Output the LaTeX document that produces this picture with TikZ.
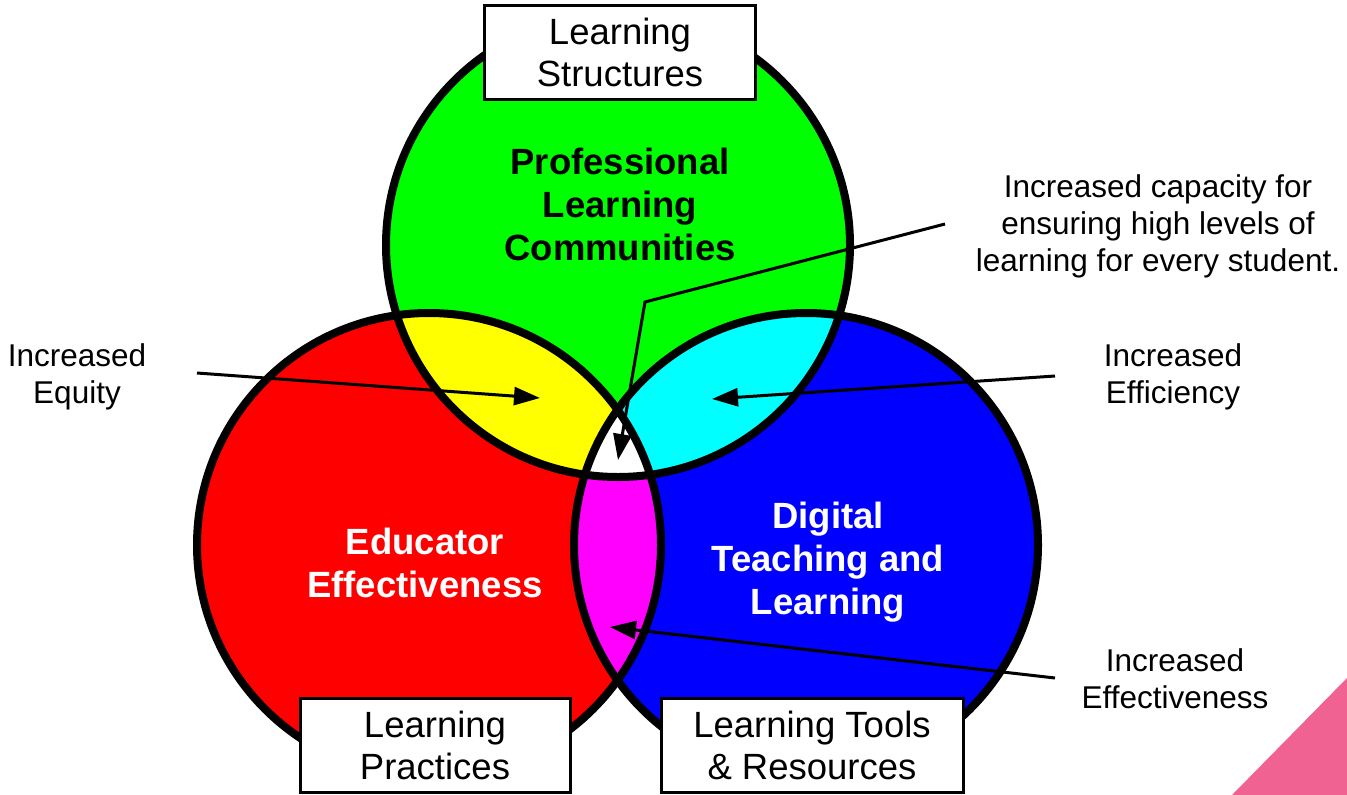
\documentclass[tikz,border=0pt]{standalone}
\usepackage{fontspec}
\setmainfont{Liberation Sans}
\usetikzlibrary{arrows.meta}
\definecolor{cornerpink}{HTML}{F06292}
\definecolor{vred}{HTML}{FF0000}
\definecolor{vgreen}{HTML}{00FF00}
\definecolor{vblue}{HTML}{0000FF}
\definecolor{vyellow}{HTML}{FFFF00}
\definecolor{vcyan}{HTML}{00FFFF}
\definecolor{vmagenta}{HTML}{FF00FF}
\begin{document}
\begin{tikzpicture}[x=1pt,y=-1pt,
  ring/.style={draw=black, line width=8pt, circle, minimum size=464pt, inner sep=0pt},
  labelbox/.style={draw, line width=3pt, fill=white, minimum height=94pt, inner sep=0pt, align=center, font=\fontsize{36.5}{42}\selectfont},
  sidelabel/.style={align=center, font=\fontsize{31.5}{37}\selectfont},
  circtitle/.style={align=center, font=\fontsize{36.5}{43}\selectfont\bfseries},
  pointer/.style={line width=3pt, -{Triangle[length=26pt,width=18pt]}}]
\useasboundingbox (0,0) rectangle (1347,795);
\fill[cornerpink] (1347,678) -- (1232,795) -- (1347,795) -- cycle;
\coordinate (gc) at (618,245);
\coordinate (rc) at (429,545);
\coordinate (bc) at (806,545);
% base fills
\fill[vred] (rc) circle[radius=232];
\fill[vblue] (bc) circle[radius=232];
\fill[vgreen] (gc) circle[radius=232];
% pairwise overlaps
\begin{scope}
  \clip (rc) circle[radius=232];
  \fill[vyellow] (gc) circle[radius=232];
  \fill[vmagenta] (bc) circle[radius=232];
\end{scope}
\begin{scope}
  \clip (gc) circle[radius=232];
  \fill[vcyan] (bc) circle[radius=232];
  \clip (rc) circle[radius=232];
  \fill[white] (bc) circle[radius=232];
\end{scope}
% outlines
\node[ring] (G) at (gc) {};
\node[ring] (R) at (rc) {};
\node[ring] (B) at (bc) {};
% boxes
\node[labelbox, minimum width=271pt] (ls) at (620,52) {Learning\\Structures};
\node[labelbox, minimum width=270pt] (lp) at (435,745) {Learning\\Practices};
\node[labelbox, minimum width=302pt] (lt) at (812,745) {Learning Tools\\\& Resources};
% circle titles
\node[circtitle, text=black] (plc) at (620,204) {Professional\\Learning\\Communities};
\node[circtitle, text=white] (ee) at (425,563) {Educator\\Effectiveness};
\node[circtitle, text=white] (dtl) at (828,562) {Digital\\Teaching and\\Learning};
% side labels
\node[sidelabel] (eq) at (77,377) {Increased\\Equity};
\node[sidelabel] (ef) at (1173,377) {Increased\\Efficiency};
\node[sidelabel] (cap) at (1158,226) {Increased capacity for\\ensuring high levels of\\learning for every student.};
\node[sidelabel] (eff) at (1175,679) {Increased\\Effectiveness};
% arrows
\coordinate (eqS) at (197,373);  \coordinate (eqT) at (540,398);
\coordinate (efS) at (1055,376); \coordinate (efT) at (712,399);
\coordinate (effS) at (1055,678); \coordinate (effT) at (610,627);
\coordinate (capS) at (945,224); \coordinate (capM) at (645,302); \coordinate (capT) at (618,460);
\draw[pointer] (eqS) -- (eqT);
\draw[pointer] (efS) -- (efT);
\draw[pointer] (effS) -- (effT);
\draw[pointer] (capS) -- (capM) -- (capT);
\end{tikzpicture}
\end{document}
